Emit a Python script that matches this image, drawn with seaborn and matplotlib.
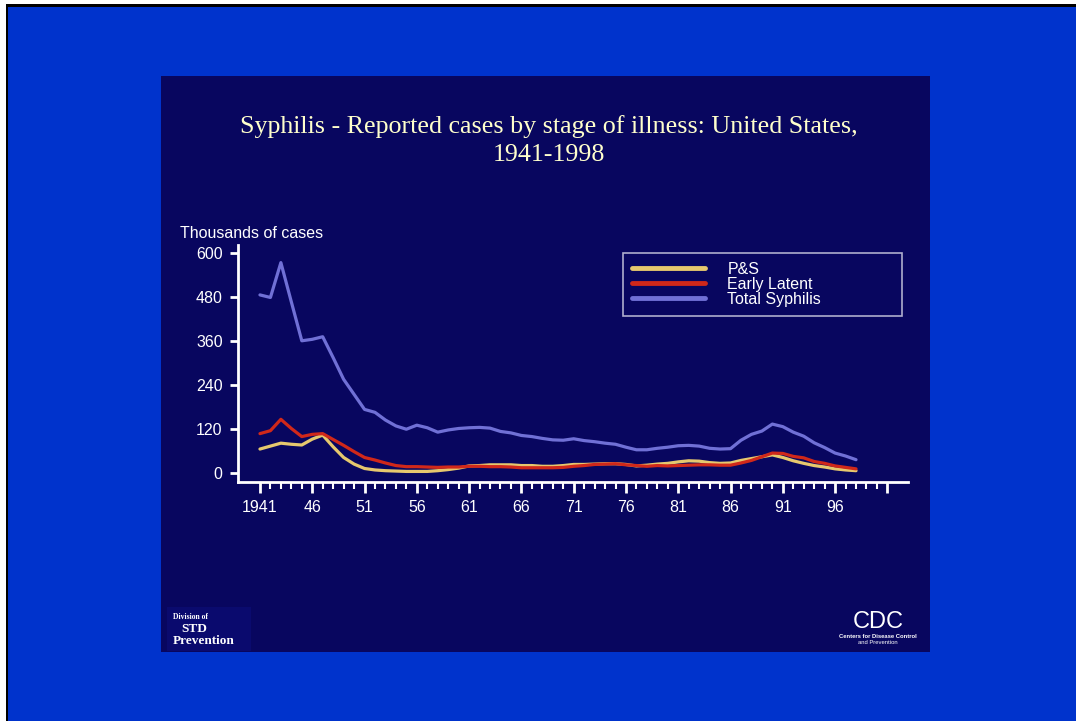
import matplotlib
matplotlib.use("Agg")
import matplotlib.pyplot as plt
from matplotlib.patches import Rectangle
from matplotlib.lines import Line2D
import pandas as pd
import seaborn as sns

# Reported cases (thousands)
years = list(range(1941, 1999))
ps_cases = [66, 74, 82, 79, 77, 93, 104, 72, 43, 25, 13, 9, 7, 6, 5, 5, 5, 7, 10, 14,
            20, 21, 23, 23, 23, 21, 21, 19, 19, 21, 24, 24, 25, 26, 26, 24, 20, 22, 25, 27,
            31, 34, 33, 29, 27, 28, 35, 40, 45, 50, 43, 34, 27, 21, 17, 12, 9, 7]
early_latent = [108, 116, 147, 122, 100, 106, 108, 92, 76, 59, 43, 36, 28, 21, 18, 18, 17, 16, 17, 17,
                19, 19, 18, 18, 17, 15, 15, 15, 15, 16, 19, 21, 24, 25, 26, 23, 21, 19, 21, 20,
                21, 22, 23, 23, 22, 22, 28, 35, 45, 55, 54, 46, 42, 32, 27, 20, 16, 12]
total_syphilis = [486, 479, 574, 467, 361, 365, 372, 315, 256, 215, 174, 166, 145, 129, 120, 131, 124, 112, 118, 122,
                  124, 125, 123, 114, 110, 103, 100, 95, 91, 90, 94, 89, 86, 82, 79, 71, 64, 64, 68, 71,
                  75, 76, 74, 68, 66, 67, 90, 106, 115, 134, 127, 112, 101, 83, 70, 55, 47, 37]

stage_names = ["P&S", "Early Latent", "Total Syphilis"]
stage_colors = ["#E6C86E", "#D0281A", "#7070D6"]

df = pd.DataFrame({"year": years * 3,
                   "cases": ps_cases + early_latent + total_syphilis,
                   "stage": [s for s in stage_names for _ in years]})

W, H = 1076, 721
navy = "#08065F"
blue = "#0033CC"
cream = "#FFFFCC"

sns.set_style("white")
plt.rcParams["font.family"] = ["Liberation Sans", "DejaVu Sans"]

fig = plt.figure(figsize=(W / 100, H / 100), dpi=100, facecolor=blue)

def px_rect(x0, y0, x1, y1, color, z):
    # pixel box (top-left origin) -> figure fraction rectangle
    fig.add_artist(Rectangle((x0 / W, 1 - y1 / H), (x1 - x0) / W, (y1 - y0) / H,
                             transform=fig.transFigure, facecolor=color,
                             edgecolor="none", zorder=z))

# white margin and black rule on the top and left only
px_rect(0, 0, W, 4, "white", -10)
px_rect(0, 0, 6, H, "white", -10)
px_rect(6, 4, W, 7, "black", -9)
px_rect(6, 4, 8, H, "black", -9)
px_rect(161, 76, 930, 652, navy, -8)
px_rect(167, 607, 251, 651, "#0A0A6E", -7)

ax = fig.add_axes([238 / W, 1 - 481.7 / H, 670.3 / W, 236.7 / H])
ax.set_facecolor("none")

sns.lineplot(data=df, x="year", y="cases", hue="stage", hue_order=stage_names,
             palette=stage_colors, linewidth=2.3, ax=ax, legend=False)

ax.set_xlim(1938.9, 2003.0)
ax.set_ylim(-23, 622)
ax.set_xlabel("")
ax.set_ylabel("")

ax.set_yticks([0, 120, 240, 360, 480, 600])
ax.set_yticklabels(["0", "120", "240", "360", "480", "600"])
ax.set_xticks(list(range(1941, 2002, 5)))
ax.set_xticklabels(["1941", "46", "51", "56", "61", "66", "71", "76", "81", "86", "91", "96", ""])
ax.set_xticks(list(range(1941, 2002)), minor=True)

for side in ["top", "right"]:
    ax.spines[side].set_visible(False)
for side in ["left", "bottom"]:
    ax.spines[side].set_color("white")
    ax.spines[side].set_linewidth(2)

ax.tick_params(axis="both", which="both", bottom=True, left=True, direction="out")
ax.tick_params(axis="both", which="major", colors="white", width=2, labelsize=11.5,
               labelcolor="white", pad=5)
ax.tick_params(axis="y", length=6)
ax.tick_params(axis="x", which="major", length=8, pad=5)
ax.tick_params(axis="x", which="minor", length=5, width=1.5, color="white")

handles = [Line2D([], [], color=c, linewidth=3.5) for c in stage_colors]
leg = ax.legend(handles, stage_names, loc="upper left", mode="expand",
                bbox_to_anchor=(0.574, 0.696, 0.417, 0.27), frameon=True,
                fancybox=False, fontsize=11.5, handlelength=4.6, handletextpad=1.4,
                labelspacing=0.0, borderpad=0.55, borderaxespad=0)
leg.get_frame().set_facecolor(navy)
leg.get_frame().set_edgecolor("#D8D8E8")
leg.get_frame().set_linewidth(1.2)
for t in leg.get_texts():
    t.set_color("white")

fig.text(549 / W, 1 - 140.5 / H,
         "Syphilis - Reported cases by stage of illness: United States,\n1941-1998",
         ha="center", va="center", color=cream, fontsize=18.7,
         family=["Liberation Serif", "DejaVu Serif"], linespacing=1.4)
fig.text(180 / W, 1 - 233 / H, "Thousands of cases", ha="left", va="center",
         color="white", fontsize=11.5)

# logos, as text
fig.text(173 / W, 1 - 617 / H, "Division of", ha="left", va="center", color="white",
         fontsize=5.5, weight="bold", family=["Liberation Serif", "DejaVu Serif"])
fig.text(181 / W, 1 - 629 / H, "STD", ha="left", va="center", color="white",
         fontsize=9.5, weight="bold", family=["Liberation Serif", "DejaVu Serif"])
fig.text(173 / W, 1 - 641 / H, "Prevention", ha="left", va="center", color="white",
         fontsize=9.5, weight="bold", family=["Liberation Serif", "DejaVu Serif"])
fig.text(878 / W, 1 - 622 / H, "CDC", ha="center", va="center", color="white",
         fontsize=17)
fig.text(878 / W, 1 - 637 / H, "Centers for Disease Control", ha="center", va="center",
         color="white", fontsize=4.2, weight="bold")
fig.text(878 / W, 1 - 643 / H, "and Prevention", ha="center", va="center",
         color="white", fontsize=4.2)

fig.savefig("out.png", dpi=100, facecolor=blue)
